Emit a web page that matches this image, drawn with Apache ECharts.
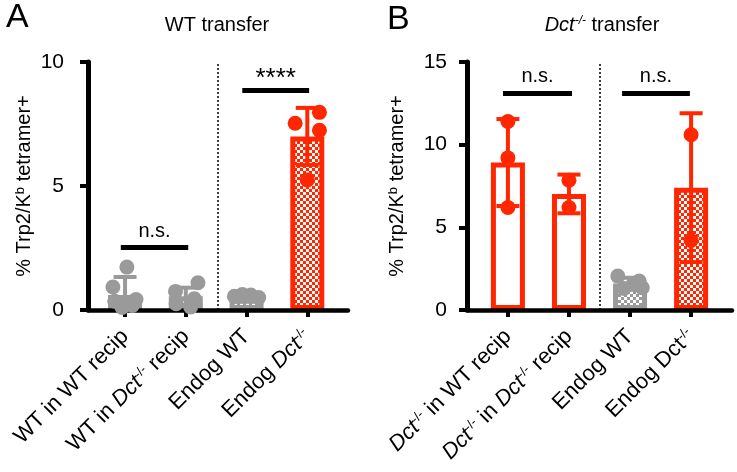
<!DOCTYPE html>
<html><head><meta charset="utf-8">
<script src="https://cdn.jsdelivr.net/npm/echarts@6/dist/echarts.min.js"></script>
<style>html,body{margin:0;padding:0;background:#fff}#c{width:737px;height:472px}</style>
</head><body><div id="c"></div>
<script>
// ---------- data ----------
const categoriesA = ['WT in WT recip', 'WT in {i|Dct}{s|-/-} recip', 'Endog WT', 'Endog {i|Dct}{s|-/-}'];
const categoriesB = ['{i|Dct}{s|-/-} in WT recip', '{i|Dct}{s|-/-} in {i|Dct}{s|-/-} recip', 'Endog WT', 'Endog Dct{s|-/-}'];
const yTicksA = [0, 5, 10];
const yTicksB = [0, 5, 10, 15];

const meansA = [0.6, 0.55, 0.45, 7.0];
const sdA = [0.73, 0.35, 0.1, 1.15];
const pointsA = [[1.73, 0.93, 0.42, 0.35, 0.18, 0.1], [1.1, 0.75, 0.45, 0.25, 0.12], [0.55, 0.62, 0.6, 0.5], [7.53, 7.97, 7.25, 5.24]];
const jitterA = [[0.03, -0.2, 0.18, -0.17, 0.12, -0.05], [0.2, -0.17, 0.14, -0.16, 0.08], [-0.2, -0.07, 0.07, 0.2], [-0.2, 0.2, 0.2, 0]];

const meansB = [8.92, 7.02, 1.6, 7.4];
const sdB = [2.63, 1.17, 0.35, 4.5];
const pointsB = [[11.4, 9.2, 6.2], [7.85, 6.2], [2.05, 1.75, 1.55, 1.3, 1.35], [10.6, 4.2]];
const jitterB = [[0, 0, 0], [0, 0], [-0.2, 0.15, 0.05, -0.1, 0.2], [0, 0]];

// group styles: 0 = gray open, 1 = gray checker, 2 = red open, 3 = red checker
const styleA = [0, 0, 1, 3];
const styleB = [2, 2, 1, 3];

const sigA = [{x1: -0.07, x2: 1.04, y: 2.54, text: 'n.s.'}, {x1: 1.93, x2: 3.03, y: 8.86, text: '****'}];
const sigB = [{x1: -0.08, x2: 1.05, y: 13.13, text: 'n.s.'}, {x1: 1.87, x2: 2.98, y: 13.13, text: 'n.s.'}];
const dividerA = 1.52, dividerB = 1.51;

// ---------- styling ----------
const RED = '#FF2600', GRAY = '#9A9A9A';
const FONT = '"Liberation Sans", Arial, Helvetica, sans-serif';
function checker(fg, bg, cell) {
  const c = document.createElement('canvas');
  c.width = c.height = cell * 2;
  const g = c.getContext('2d');
  g.fillStyle = bg; g.fillRect(0, 0, cell * 2, cell * 2);
  g.fillStyle = fg; g.fillRect(0, 0, cell, cell); g.fillRect(cell, cell, cell, cell);
  return c;
}
const redChk = {image: checker(RED, '#ffffff', 3), repeat: 'repeat'};
const grayChk = {image: checker(GRAY, '#ffffff', 3), repeat: 'repeat'};
const groupStyles = [
  {fill: '#ffffff', line: GRAY},
  {fill: grayChk, line: GRAY},
  {fill: '#ffffff', line: RED},
  {fill: redChk, line: RED}
];
const LBL = 22;
const rich = {
  i: {fontStyle: 'italic', fontSize: LBL, fontFamily: FONT, color: '#000'},
  s: {fontSize: 13, fontFamily: FONT, verticalAlign: 'top', lineHeight: 15, color: '#000'}
};

function panel(idx, cats, means, sds, pts, jit, styles, sig, divider) {
  const series = [];
  series.push({
    type: 'bar', xAxisIndex: idx, yAxisIndex: idx, barWidth: 34, z: 2,
    data: means.map((m, i) => ({value: [i, m], itemStyle: {color: groupStyles[styles[i]].fill, borderColor: groupStyles[styles[i]].line, borderWidth: 5}})),
    markLine: {
      silent: true, symbol: 'none', animation: false,
      data: [
        {xAxis: divider, lineStyle: {color: '#000', width: 1.5, type: [2, 2]}, label: {show: false}},
        ...sig.map(s => [
          {coord: [s.x1, s.y], lineStyle: {color: '#000', width: 5, type: 'solid'},
           label: {show: true, position: 'insideMiddleTop', formatter: s.text, distance: s.text === '****' ? -2 : 6,
             fontSize: s.text === '****' ? 26 : 20, color: '#000', fontFamily: FONT}},
          {coord: [s.x2, s.y]}
        ])
      ]
    }
  });
  series.push({
    type: 'custom', xAxisIndex: idx, yAxisIndex: idx, z: 4,
    data: means.map((m, i) => [i, m, sds[i], styles[i]]),
    renderItem: (params, api) => {
      const x = api.value(0), m = api.value(1), s = api.value(2);
      const col = groupStyles[api.value(3)].line;
      const top = api.coord([x, m + s]);
      const bot = api.coord([x, Math.max(0, m - s)]);
      const hw = 11.5;
      const st = {stroke: col, lineWidth: 4};
      const ch = [
        {type: 'line', shape: {x1: top[0], y1: top[1], x2: bot[0], y2: bot[1]}, style: st},
        {type: 'line', shape: {x1: top[0] - hw, y1: top[1], x2: top[0] + hw, y2: top[1]}, style: st}
      ];
      if (m - s > 0) ch.push({type: 'line', shape: {x1: bot[0] - hw, y1: bot[1], x2: bot[0] + hw, y2: bot[1]}, style: st});
      return {type: 'group', children: ch};
    }
  });
  const sc = [];
  pts.forEach((arr, i) => arr.forEach((v, k) => sc.push({value: [i + jit[i][k], v], itemStyle: {color: groupStyles[styles[i]].line, opacity: 1}})));
  series.push({type: 'scatter', xAxisIndex: idx, yAxisIndex: idx, z: 5, symbolSize: 15, itemStyle: {opacity: 1}, data: sc});
  return series;
}

const xAxisCommon = (cats, min) => ({
  type: 'value', min: min, max: 3.67, z: 3,
  splitLine: {show: false},
  axisLine: {show: true, onZero: false, lineStyle: {color: '#000', width: 4.5}},
  axisTick: {show: true, customValues: [0, 1, 2, 3], length: 7, lineStyle: {color: '#000', width: 4}},
  axisLabel: {customValues: [0, 1, 2, 3], rotate: 45, margin: 23, fontSize: LBL, fontFamily: FONT, color: '#000',
    formatter: v => cats[Math.round(v)], rich: rich}
});
const yAxisCommon = (ticks, gap, margin) => ({
  type: 'value', min: ticks[0], max: ticks[ticks.length - 1], interval: ticks[1] - ticks[0], z: 3,
  splitLine: {show: false},
  axisLine: {show: true, onZero: false, lineStyle: {color: '#000', width: 5}},
  axisTick: {show: true, length: 8, lineStyle: {color: '#000', width: 4}},
  axisLabel: {margin: margin, fontSize: 21, fontFamily: FONT, color: '#000'},
  name: '% Trp2/K{s|b} tetramer+', nameLocation: 'middle', nameRotate: 90, nameGap: gap,
  nameTextStyle: {fontSize: 20, fontFamily: FONT, color: '#000', rich: {s: {fontSize: 13, fontFamily: FONT, verticalAlign: 'top', lineHeight: 14, color: '#000'}}}
});

const option = {
  animation: false,
  backgroundColor: '#fff',
  textStyle: {fontFamily: FONT},
  grid: [
    {left: 88, right: 737 - 348, top: 62, bottom: 472 - 310},
    {left: 467, right: 737 - 732, top: 62, bottom: 472 - 310}
  ],
  xAxis: [Object.assign(xAxisCommon(categoriesA, -0.61), {gridIndex: 0}), Object.assign(xAxisCommon(categoriesB, -0.67), {gridIndex: 1})],
  yAxis: [Object.assign(yAxisCommon(yTicksA, 54, 24), {gridIndex: 0}), Object.assign(yAxisCommon(yTicksB, 60, 20), {gridIndex: 1})],
  graphic: [
    {type: 'text', x: 6, y: 18, style: {text: 'A', fontSize: 34, fontFamily: FONT, fill: '#000', verticalAlign: 'middle'}},
    {type: 'text', x: 387, y: 20, style: {text: 'B', fontSize: 34, fontFamily: FONT, fill: '#000', verticalAlign: 'middle'}},
    {type: 'text', x: 217, y: 25, style: {text: 'WT transfer', fontSize: 20, fontFamily: FONT, fill: '#000', align: 'center', verticalAlign: 'middle'}},
    {type: 'text', x: 602, y: 25, style: {text: '{i|Dct}{s|-/-} transfer', fontSize: 20, fontFamily: FONT, fill: '#000', align: 'center', verticalAlign: 'middle',
      rich: {i: {fontStyle: 'italic', fontSize: 20, fontFamily: FONT}, s: {fontStyle: 'italic', fontSize: 12, fontFamily: FONT, verticalAlign: 'top', lineHeight: 14}}}}
  ],
  series: [
    ...panel(0, categoriesA, meansA, sdA, pointsA, jitterA, styleA, sigA, dividerA),
    ...panel(1, categoriesB, meansB, sdB, pointsB, jitterB, styleB, sigB, dividerB)
  ]
};
const chart = echarts.init(document.getElementById('c'), null, {renderer: 'canvas'});
chart.setOption(option);
</script>
</body></html>
